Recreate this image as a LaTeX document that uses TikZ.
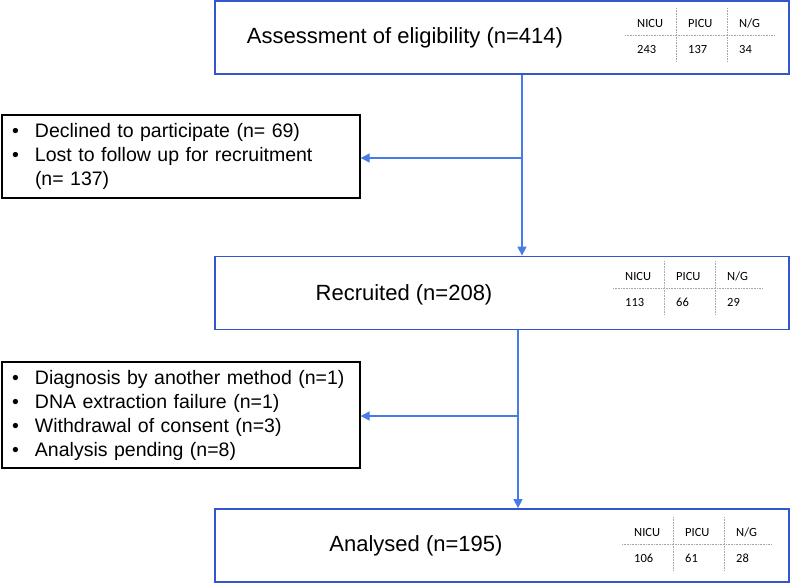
\documentclass[tikz,border=0pt]{standalone}
\usepackage{fontspec}
\setmainfont{Liberation Sans}
\newfontfamily\cellfont{Carlito}
\usetikzlibrary{positioning, arrows.meta}
\definecolor{boxblue}{RGB}{52,86,204}
\definecolor{flowblue}{RGB}{72,122,232}

% small NICU / PICU / N/G table inside a stage box
\newcommand{\unitgrid}[5]{%
  \begin{scope}[shift={#2}]
    \draw[gridline] (0,0) -- (150,0);
    \draw[gridline] (51,-27) -- (51,27);
    \draw[gridline] (102,-27) -- (102,27);
    \node[cell] (#1-nicu) at (12,-8) {NICU};
    \node[cell] (#1-picu) at (63,-8) {PICU};
    \node[cell] (#1-ng)   at (114,-8) {N/G};
    \node[cell] (#1-a) at (12,18) {#3};
    \node[cell] (#1-b) at (63,18) {#4};
    \node[cell] (#1-c) at (114,18) {#5};
  \end{scope}}
\newcommand{\bul}{\hspace*{6pt}\makebox[23pt][l]{\textbullet}}

\begin{document}
\begin{tikzpicture}[
  x=1pt, y=-1pt,
  stagebox/.style={rectangle, draw=boxblue, line width=1.8pt, minimum width=574pt, minimum height=73pt, inner sep=0pt},
  stagelbl/.style={font=\fontsize{22}{26}\selectfont, inner sep=0pt},
  exclbox/.style={rectangle, draw=black, line width=1.4pt, minimum width=358pt, text width=350pt, inner xsep=4pt, align=left, font=\fontsize{19.5}{24}\selectfont},
  flow/.style={-{Triangle[length=9pt, width=9pt]}, draw=flowblue, line width=1.4pt},
  gridline/.style={draw=gray!70, densely dotted, line width=0.6pt},
  cell/.style={font=\cellfont\fontsize{12.5}{14}\selectfont, anchor=base west, inner sep=0pt}
]
  \useasboundingbox (0,0) rectangle (794,584);

  \node[stagebox] (assess)   at (502,37.5)  {};
  \node[stagebox] (recruit)  at (502,293)   {};
  \node[stagebox] (analysed) at (502,545.5) {};
  \node[stagelbl] (assesslbl)   at (405,38)  {Assessment of eligibility (n=414)};
  \node[stagelbl] (recruitlbl)  at (404,295) {Recruited (n=208)};
  \node[stagelbl] (analysedlbl) at (416,546) {Analysed (n=195)};

  \unitgrid{t1}{(625,35)}{243}{137}{34}
  \unitgrid{t2}{(613,288)}{113}{66}{29}
  \unitgrid{t3}{(622,544)}{106}{61}{28}

  \node[exclbox, minimum height=83pt] (excl1) at (181,156.5)
    {\bul Declined to participate (n= 69)\\
     \bul Lost to follow up for recruitment\\
     \hspace*{29pt}(n= 137)};
  \node[exclbox, minimum height=106pt] (excl2) at (181,415)
    {\bul Diagnosis by another method (n=1)\\
     \bul DNA extraction failure (n=1)\\
     \bul Withdrawal of consent (n=3)\\
     \bul Analysis pending (n=8)};

  \coordinate (split1) at (522,158);
  \coordinate (split2) at (518,416);
  \draw[flow] ([xshift=20pt]assess.south) -- ([xshift=20pt]recruit.north);
  \draw[flow] (split1) -- (split1 -| excl1.east);
  \draw[flow] ([xshift=16pt]recruit.south) -- ([xshift=16pt]analysed.north);
  \draw[flow] (split2) -- (split2 -| excl2.east);
\end{tikzpicture}
\end{document}
